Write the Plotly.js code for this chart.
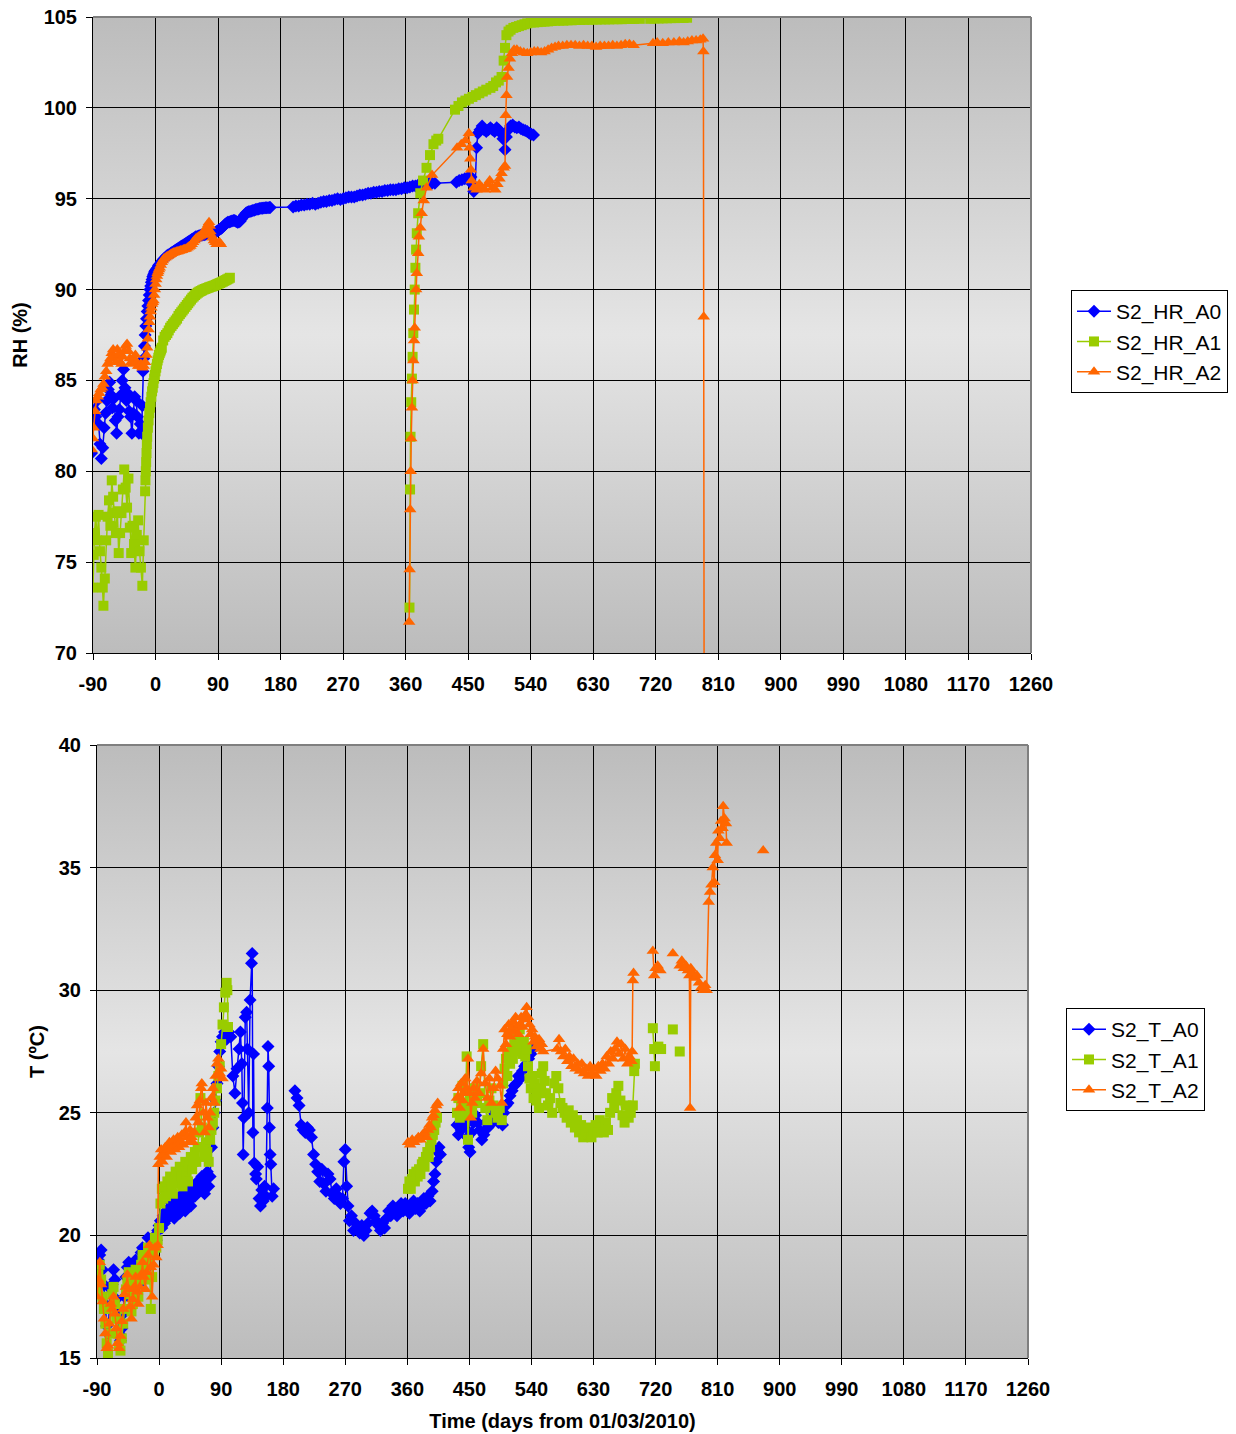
<!DOCTYPE html>
<html>
<head>
<meta charset="utf-8">
<script src="https://cdn.plot.ly/plotly-3.0.1.min.js"></script>
<style>html,body{margin:0;padding:0;background:#fff;}#chart{width:1236px;height:1434px;}</style>
</head>
<body>
<div id="chart"></div>
<script>
// ---------- tick labels ----------
const xTickVals = [-90,0,90,180,270,360,450,540,630,720,810,900,990,1080,1170,1260];
const xTickText = ['-90','0','90','180','270','360','450','540','630','720','810','900','990','1080','1170','1260'];
const rhTickVals = [70,75,80,85,90,95,100,105];
const tTickVals = [15,20,25,30,35,40];

// ---------- RH series ----------
const rhA0Days = [-92,-90,-88,-86,-84,-82,-80,-78,-76,-74,-72,-70,-68,-66,-64,-62,-60,-58,-56,-54,-52,-50,-48,-46,-44,-42,-40,-38,-36,-34,-32,-30,-28,-26,-24,-22,-20,-19,-18,-17,-16,-15,-14,-13,-12,-11,-10,-9,-8,-7,-6,-5,-4,-3,-2,-1,0,1,2,3,4,5,6,8,10,12,14,16,18,20,22,24,26,28,30,32,34,36,38,40,42,44,46,48,50,52,54,56,58,60,62,64,66,68,70,72,74,76,78,80,82,84,86,88,90,92,94,96,98,100,102,104,106,108,110,112,114,116,118,120,122,124,126,128,130,132,134,136,138,140,142,144,146,148,150,152,154,156,158,160,162,164,165,
198,202,206,210,214,218,222,226,230,234,238,242,246,250,254,258,262,266,270,274,278,282,286,290,294,298,302,306,310,314,318,322,326,330,334,338,342,346,350,354,358,362,366,370,374,378,382,386,390,394,398,402,
433,437,441,445,449,452,454,456,458,460,462,464,467,470,473,476,479,482,485,488,491,494,497,500,503,505,508,511,514,517,520,523,526,529,532,535,538,541,544];
const rhA0 = [81.0,82.6,83.4,83.0,83.9,82.6,81.5,80.7,81.3,82.4,83.2,83.9,84.5,84.9,84.2,83.5,84.0,82.8,82.1,83.0,83.4,84.2,85.0,85.6,84.6,83.9,84.3,83.3,83.0,82.1,83.2,84.1,83.9,83.0,82.1,82.6,82.1,83.6,85.5,86.2,86.9,87.5,88.0,88.4,88.8,89.1,89.4,89.7,90.0,90.2,90.4,90.55,90.7,90.8,90.9,91.0,91.05,91.1,91.15,91.2,91.3,91.35,91.4,91.5,91.6,91.7,91.75,91.85,91.9,91.95,92.0,92.05,92.1,92.15,92.2,92.25,92.3,92.35,92.4,92.45,92.5,92.55,92.6,92.65,92.7,92.75,92.8,92.85,92.9,92.92,92.95,92.98,93.0,93.0,93.02,93.05,93.08,93.1,93.05,93.0,93.05,93.1,93.15,93.2,93.25,93.3,93.35,93.42,93.5,93.58,93.65,93.7,93.72,93.75,93.78,93.8,93.8,93.75,93.7,93.72,93.78,93.9,94.0,94.1,94.2,94.25,94.28,94.3,94.32,94.35,94.37,94.4,94.42,94.44,94.46,94.47,94.48,94.49,94.5,94.5,94.5,94.52,94.52,
94.55,94.6,94.6,94.65,94.65,94.7,94.7,94.75,94.7,94.75,94.8,94.85,94.85,94.9,94.9,94.95,95.0,94.95,95.0,95.05,95.1,95.1,95.1,95.15,95.2,95.2,95.25,95.3,95.3,95.35,95.35,95.4,95.4,95.45,95.45,95.5,95.5,95.5,95.55,95.55,95.6,95.6,95.65,95.7,95.7,95.75,95.75,95.8,95.8,95.85,95.85,95.85,
95.9,96.0,96.05,96.1,96.15,96.2,96.2,95.8,95.4,95.6,97.8,98.6,98.8,99.0,98.8,98.7,98.8,98.9,98.8,98.7,98.9,98.8,98.6,98.3,97.7,98.4,98.8,99.0,99.05,98.95,98.9,98.95,98.85,98.8,98.75,98.7,98.6,98.55,98.5];

const rhA1Days = [-90,-89,-88,-86,-84,-82,-80,-78,-76,-75,-73,-71,-69,-67,-65,-63,-61,-59,-57,-55,-53,-51,-49,-47,-45,-43,-41,-39,-37,-35,-33,-31,-29,-27,-25,-23,-21,-19,-17,-15,-14.5,-14,-13.5,-13,-12.5,-12,-11,-10,-9,-8,-7,-6,-5,-4,-3,-2,-1,0,1,2,3,4,5,6,7,8,9,11,13,15,17,19,21,23,25,27,29,31,33,35,37,39,41,43,45,47,49,51,53,55,57,59,61,63,65,67,69,71,73,75,77,79,81,83,85,87,89,91,93,95,97,99,101,103,105,107,
null,
365.5,366.3,367,368,369,370,371,372,373,374,375,376,378,381,385,390,395,400,404,407,
431,436,441,446,451,456,461,466,471,476,482,486,490,494,498,501,503,505,508,511,515,519,523,527,531,535,540,545,550,555,560,565,570,575,581,587,593,599,605,611,617,623,629,635,641,647,653,659,665,671,677,683,689,697,712,718,724,730,736,742,748,754,760,765];
const rhA1 = [73.6,75.4,76.6,77.5,76.2,77.6,75.6,74.7,73.6,72.6,74.1,76.2,77.5,78.4,77.0,79.5,78.6,77.7,76.6,77.8,75.5,76.6,77.7,79.0,80.1,79.1,78.0,79.6,76.9,75.5,77.0,76.0,74.7,76.5,77.3,75.6,74.7,73.7,76.2,78.9,79.5,80.0,80.5,81.0,81.5,81.9,82.4,82.8,83.2,83.5,83.8,84.1,84.4,84.6,84.85,85.1,85.3,85.5,85.7,85.9,86.1,86.25,86.4,86.5,86.6,86.7,86.8,87.2,87.4,87.5,87.6,87.75,87.9,88.0,88.1,88.2,88.3,88.4,88.55,88.65,88.75,88.85,88.95,89.05,89.15,89.25,89.35,89.45,89.55,89.62,89.7,89.77,89.83,89.88,89.92,89.96,90.0,90.03,90.06,90.09,90.12,90.15,90.17,90.2,90.23,90.26,90.3,90.33,90.36,90.4,90.44,90.48,90.52,90.56,90.6,90.65,
null,
72.5,79.0,81.9,83.8,85.1,86.3,87.6,88.9,90.0,91.2,92.2,93.1,94.2,95.3,96.0,96.7,97.4,98.0,98.2,98.3,
99.9,100.1,100.3,100.4,100.5,100.6,100.7,100.8,100.9,101.0,101.1,101.2,101.4,101.5,101.7,102.6,103.3,104.0,104.2,104.3,104.4,104.45,104.5,104.55,104.6,104.65,104.7,104.7,104.72,104.74,104.75,104.76,104.78,104.8,104.8,104.8,104.82,104.82,104.84,104.84,104.85,104.85,104.86,104.86,104.87,104.87,104.87,104.88,104.88,104.88,104.89,104.89,104.9,104.9,104.9,104.92,104.92,104.93,104.93,104.94,104.94,104.95,104.95,104.96];

const rhA2Days = [-92,-90,-89,-87,-85,-83,-81,-79,-77,-75,-73,-71,-69,-67,-65,-63,-61,-59,-57,-55,-53,-51,-49,-47,-45,-43,-41,-39,-37,-35,-33,-31,-29,-27,-25,-23,-21,-19,-17,-15,-13,-12,-11,-10,-9,-8,-7,-6,-5,-4,-3,-2,-1,0,1,2,3,4,5,6,7.5,9,10.5,12,14,16,18,20,22,24,26,28,30,32,34,36,38,40,42,44,46,48,50,52,54,56,58,60,62,64,66,68,70,72,74,76,77,78,79,80,82,84,86,88,90,92,94,
null,
365,365.7,366.5,367.2,368,369,370,371,372,373,375,376,378,379,381,383,386,390,398,434,440,446,451,452,453,454,455,458,462,466,470,474,478,481,485,489,492,495,498,501,503,504,505,506,508,510,513,516,520,525,530,535,540,545,550,555,560,565,570,575,580,586,592,598,604,610,616,622,628,634,640,646,652,658,664,670,676,682,688,716,722,730,738,746,754,760,766,772,778,784,788,788.5,789,789.5];
const rhA2 = [81.2,81.8,82.4,83.3,83.9,84.1,84.3,84.5,84.6,84.8,85.2,85.5,85.9,86.0,86.2,86.5,86.7,86.3,86.0,86.7,86.4,86.0,85.9,86.3,86.6,86.9,87.0,86.6,86.2,86.0,85.9,86.1,86.4,86.0,85.8,85.8,85.9,85.7,85.8,86.0,86.4,86.8,87.3,87.8,88.2,88.5,88.8,89.0,89.2,89.3,89.4,89.7,90.0,90.3,90.55,90.75,90.9,91.0,91.1,91.2,91.35,91.5,91.6,91.7,91.75,91.8,91.85,91.9,91.95,92.0,92.02,92.05,92.08,92.1,92.12,92.15,92.17,92.2,92.22,92.25,92.3,92.35,92.4,92.5,92.6,92.7,92.8,92.85,92.9,92.95,93.0,93.1,93.2,93.3,93.45,93.6,93.7,93.5,93.2,93.0,92.85,92.7,92.6,92.5,92.55,92.6,92.5,
null,
71.7,74.6,77.9,80.0,81.8,83.5,85.0,86.1,87.2,87.9,90.0,90.9,92.0,92.9,93.4,94.2,94.9,95.6,96.3,97.8,98.0,98.2,98.6,97.8,97.2,96.6,96.0,95.6,95.5,95.8,95.6,95.5,95.8,96.0,95.6,95.5,95.8,96.1,96.4,96.7,96.8,99.6,100.7,101.7,102.2,102.7,103.0,103.2,103.2,103.1,103.05,103.0,103.05,103.1,103.1,103.05,103.1,103.2,103.3,103.35,103.4,103.4,103.45,103.45,103.45,103.4,103.45,103.4,103.4,103.35,103.4,103.4,103.4,103.45,103.4,103.45,103.5,103.5,103.45,103.55,103.6,103.55,103.6,103.6,103.65,103.6,103.65,103.7,103.7,103.75,103.8,103.1,88.5,69.5];

// ---------- T series ----------
const tA0Days = [-90,-88,-86,-84,-82,-80,-78,-76,-74,-72,-70,-68,-66,-64,-62,-60,-58,-56,-54,-52,-50,-48,-46,-44,-42,-40,-38,-36,-34,-32,-30,-28,-26,-24,-22,-20,-18,-16,-14,-12,-10,-8,-6,-4,-2,0,
2,4,6,8,10,12,14,16,18,20,22,24,26,28,30,32,34,36,38,40,42,44,46,48,50,52,54,56,58,60,62,64,66,68,70,72,74,76,78,80,82,84,86,88,90,92,95,98,101,104,107,110,113,116,118,120,121,122,123,125,127,128,130,132,134,135,136,137,138,140,141,143,145,147,149,151,153,155,157,158,159,160,161,162,164,166,
null,
197,200,203,206,209,212,215,218,221,224,227,230,233,236,239,242,245,248,251,254,257,260,263,266,268,270,272,274,276,279,282,285,288,291,294,297,300,303,306,309,312,315,318,321,324,327,330,333,336,339,342,345,348,351,354,357,360,363,366,369,372,375,378,381,384,387,390,393,396,398,400,402,404,406,408,
null,
432,434,436,438,441,444,447,449,451,453,456,459,462,465,468,471,474,477,480,483,486,489,492,495,498,500,503,506,509,512,515,518,521,524,527,530,533,536,539,542];
const tA0 = [18.3,19.0,19.2,19.4,18.6,18.0,17.2,16.3,16.0,17.1,17.8,18.0,18.6,18.2,17.4,16.8,16.0,15.7,16.2,16.8,17.5,18.3,18.7,18.9,18.2,17.4,17.8,18.6,19.0,18.5,18.0,18.8,19.3,19.5,19.0,18.6,19.3,19.9,19.6,19.2,19.5,19.9,20.0,19.8,20.2,20.4,
20.6,20.3,20.8,20.5,21.0,20.7,21.1,20.8,21.3,21.0,20.7,21.2,21.5,21.1,20.9,21.4,21.7,21.3,21.0,21.5,21.8,21.4,21.2,21.7,22.0,21.6,21.9,22.2,21.8,22.1,22.4,22.0,21.7,22.3,22.6,22.0,22.4,23.6,24.4,25.0,25.5,26.2,26.9,27.5,27.9,28.1,28.3,28.0,28.3,28.1,26.5,25.8,26.8,27.6,28.3,27.0,25.4,23.3,24.8,28.9,29.1,27.6,25.0,29.6,31.1,31.5,24.2,27.4,22.95,22.5,22.3,22.8,21.5,21.2,21.85,21.4,22.0,21.6,25.2,27.7,26.9,24.4,23.3,22.9,21.6,21.9,
null,
25.9,25.6,25.3,24.5,24.3,24.2,24.4,24.3,24.0,23.3,22.9,22.6,22.2,22.7,22.1,21.8,22.5,22.3,21.7,21.5,21.9,21.6,21.3,21.5,23.0,23.5,22.0,21.2,20.6,20.8,20.2,20.5,20.3,20.1,20.4,20.0,20.2,20.5,20.9,21.0,20.8,20.6,20.4,20.2,20.5,20.3,20.7,21.0,20.8,21.2,21.0,20.8,21.1,21.3,21.0,21.3,21.1,20.9,21.2,21.4,21.1,21.3,21.0,21.2,21.5,21.3,21.6,21.4,21.8,22.2,22.5,23.0,23.4,23.6,23.3,
null,
24.5,24.1,24.6,24.3,24.8,24.5,24.0,23.6,23.4,24.2,24.6,24.9,24.6,24.3,23.9,24.1,24.6,24.4,24.5,24.8,25.0,24.9,24.6,24.9,24.5,25.0,25.3,25.4,25.7,25.9,26.1,26.2,26.5,26.4,26.7,26.9,27.0,27.2,27.4,27.6];

const tA1Days = [-90,-88,-86,-84,-82,-80,-78,-76,-74,-72,-70,-68,-66,-64,-62,-60,-58,-56,-54,-52,-50,-48,-46,-44,-42,-40,-38,-36,-34,-32,-30,-28,-26,-24,-22,-20,-18,-16,-14,-12,-10,-8,-6,-4,-2,0,
2,4,6,8,10,12,14,16,18,20,22,24,26,28,30,32,34,36,38,40,42,44,46,48,50,52,54,56,58,60,62,64,66,68,70,72,74,76,78,80,82,84,86,88,90,92,94,96,98,99,100,
null,
361,363,365,367,369,371,373,375,377,379,381,383,385,387,389,391,393,395,397,399,401,403,
null,
432,434,436,438,440,442,444,446,448,450,452,454,456,458,461,464,467,470,473,476,479,482,485,488,491,494,497,499,501,503,505,507,509,511,513,515,517,519,521,523,525,527,529,531,533,535,537,539,541,543,545,547,549,551,553,555,557,559,561,564,567,570,573,576,579,582,585,588,591,594,597,600,603,606,609,612,615,618,621,624,627,630,633,636,639,642,645,648,651,654,657,660,663,666,669,672,675,678,681,684,687,689,690,
null,
716,718,719,null,724,728,null,745,null,755];
const tA1 = [17.8,18.4,18.8,18.2,17.5,17.0,16.4,15.6,15.2,16.0,17.0,17.6,17.9,17.2,16.6,16.0,15.5,15.3,15.8,16.4,17.0,17.8,18.2,18.5,17.6,16.9,17.2,18.0,18.6,18.1,17.5,18.2,18.8,19.2,18.7,18.2,18.9,19.5,19.0,17.0,18.3,19.4,19.9,19.5,19.8,20.3,
21.3,21.9,21.5,22.0,21.6,22.2,21.8,22.4,22.0,21.7,22.3,22.6,22.1,22.5,22.8,22.4,22.0,22.6,23.0,22.5,22.2,22.8,23.2,22.7,23.0,23.4,23.0,23.6,24.2,25.6,24.4,23.6,23.2,23.8,23.4,23.0,23.9,24.3,24.6,25.0,25.5,26.0,26.5,26.9,27.8,28.6,29.3,29.9,30.3,30.0,28.5,
null,
21.9,22.2,21.9,22.3,22.5,22.2,22.6,22.4,22.7,22.5,22.9,23.0,22.8,23.2,23.4,23.2,23.6,23.9,24.1,24.3,24.6,24.8,
null,
25.0,25.6,24.8,25.3,26.1,25.4,24.9,27.3,23.9,25.2,25.8,25.0,25.5,26.0,25.4,25.8,26.9,27.8,25.2,24.7,25.5,26.0,25.3,25.0,24.8,25.2,24.7,26.2,26.8,27.2,26.5,27.4,27.0,27.6,27.2,27.8,27.5,28.1,27.7,28.4,27.8,27.4,27.9,27.3,27.6,26.9,26.4,26.0,26.5,25.6,26.2,25.5,25.8,25.2,26.0,26.6,26.9,26.3,25.8,25.3,25.6,25.0,26.2,26.5,26.0,25.4,25.2,25.0,24.8,25.1,24.6,24.9,24.4,24.7,24.2,24.5,24.0,24.3,24.1,24.4,24.0,24.2,24.5,24.2,24.7,24.4,24.2,24.6,24.3,25.0,25.6,25.2,25.8,26.1,25.5,24.9,24.6,25.3,24.8,25.0,25.3,26.7,27.0,
null,
28.45,27.6,26.9,null,27.7,27.6,null,28.4,null,27.5];

const tA2Days = [-90,-88,-86,-84,-82,-80,-78,-76,-74,-72,-70,-68,-66,-64,-62,-60,-58,-56,-54,-52,-50,-48,-46,-44,-42,-40,-38,-36,-34,-32,-30,-28,-26,-24,-22,-20,-18,-16,-14,-12,-10,-8,-6,-4,-2,
-1,1,3,5,7,9,11,13,15,17,19,21,23,25,27,29,31,33,35,37,39,41,43,45,47,49,51,53,55,57,59,61,62,64,66,68,70,72,74,76,78,80,82,84,86,88,90,92,
null,
361,364,367,370,373,376,379,382,385,388,390,392,394,396,398,400,402,404,
null,
432,434,436,438,440,442,444,446,448,450,452,454,456,458,461,464,467,470,473,476,479,482,485,488,491,494,497,499,501,503,505,507,509,511,513,515,517,519,521,523,525,527,529,531,533,535,537,539,541,543,545,547,549,551,553,555,557,577,580,583,586,589,592,595,598,601,604,607,610,613,616,619,622,625,628,631,634,637,640,643,646,649,652,655,658,661,664,667,670,673,676,679,682,685,686,687,688,
null,
716,718,720,723,727,null,745,null,755,758,761,764,767,769,770,771,774,777,780,783,786,789,792,794,797,799,801,803,805,806,808,810,811,813,815,817,818,820,822,823,null,876];
const tA2 = [17.5,18.2,18.9,18.0,17.3,16.6,16.0,15.4,15.5,16.4,17.2,17.0,17.5,16.8,16.2,15.6,15.4,15.9,16.5,17.0,17.6,17.9,18.4,17.8,17.1,16.6,17.4,17.9,18.3,17.7,17.2,17.9,18.4,18.9,18.3,17.8,18.5,19.2,19.6,18.7,17.5,18.8,19.5,19.1,19.6,
22.9,23.2,23.5,23.0,23.3,23.6,23.2,23.5,23.8,23.4,23.6,23.9,23.5,23.7,24.0,23.6,23.8,24.1,23.7,24.2,24.6,24.0,23.8,24.3,24.0,23.8,24.2,24.8,25.3,24.6,25.5,26.0,26.2,25.0,24.2,25.4,24.8,24.4,25.0,25.6,26.0,25.4,26.5,27.0,27.2,26.6,26.8,26.4,
null,
23.8,23.7,23.9,23.8,23.9,24.0,23.9,24.1,24.2,24.0,24.3,24.5,24.4,24.8,24.9,25.1,25.3,25.4,
null,
25.6,26.0,25.2,26.2,25.5,25.8,26.4,26.0,27.2,25.8,24.8,25.4,26.0,25.6,26.3,25.8,26.6,27.6,26.2,25.6,26.4,25.4,26.0,26.7,26.4,26.1,25.4,27.6,28.4,27.8,28.2,28.6,28.1,28.4,28.7,28.3,28.9,28.5,28.2,28.6,28.9,28.5,28.8,29.0,29.3,28.9,28.6,28.2,28.4,27.9,28.1,27.7,27.9,28.0,27.6,27.8,27.5,27.6,28.0,27.5,27.3,27.6,27.1,27.3,26.9,27.2,26.8,27.0,26.7,27.0,26.6,26.8,26.5,26.9,26.6,26.8,26.5,26.9,26.7,27.0,26.8,27.3,27.0,27.5,27.2,27.6,27.9,27.4,27.8,27.2,27.6,27.0,27.3,27.1,27.5,30.4,30.7,
null,
31.6,30.6,30.9,31.0,30.8,null,31.5,null,31.0,31.2,30.9,31.0,30.8,30.6,25.2,30.9,30.7,30.5,30.6,30.3,30.1,30.0,30.2,30.0,33.6,34.0,34.3,35.0,34.4,35.5,36.0,35.3,36.5,36.2,36.9,36.6,37.5,37.0,36.8,36.0,null,35.7];

// ---------- styling ----------
const BLUE = '#0000FF', GREEN = '#99CC00', ORANGE = '#FF6600';
const FONT = 'Liberation Sans, Arial, sans-serif';

function series(x, y, name, color, symbol, size, xa, ya, legend) {
  return {
    type: 'scatter', mode: 'lines+markers', x: x, y: y, name: name,
    xaxis: xa, yaxis: ya, legend: legend, connectgaps: false,
    line: {color: color, width: 1.5},
    marker: {color: color, symbol: symbol, size: size, line: {width: 0}}
  };
}

const data = [
  series(rhA0Days, rhA0, 'S2_HR_A0', BLUE, 'diamond', 10, 'x', 'y', 'legend'),
  series(rhA1Days, rhA1, 'S2_HR_A1', GREEN, 'square', 10, 'x', 'y', 'legend'),
  series(rhA2Days, rhA2, 'S2_HR_A2', ORANGE, 'triangle-up', 11, 'x', 'y', 'legend'),
  series(tA0Days, tA0, 'S2_T_A0', BLUE, 'diamond', 10, 'x2', 'y2', 'legend2'),
  series(tA1Days, tA1, 'S2_T_A1', GREEN, 'square', 10, 'x2', 'y2', 'legend2'),
  series(tA2Days, tA2, 'S2_T_A2', ORANGE, 'triangle-up', 11, 'x2', 'y2', 'legend2')
];

const W = 1236, H = 1434;
const topDom = {x: [93/W, 1031/W], y: [(H-653)/H, (H-17)/H]};
const botDom = {x: [97/W, 1028/W], y: [(H-1358)/H, (H-745)/H]};

const tickFont = {family: FONT, size: 20, color: '#000', weight: 'bold'};
const titleFont = {family: FONT, size: 20, color: '#000', weight: 'bold'};
const legendFont = {family: FONT, size: 21, color: '#000'};

function xAxis(dom, anchor, title) {
  const a = {
    domain: dom, anchor: anchor, range: [-90, 1260],
    tickmode: 'array', tickvals: xTickVals, ticktext: xTickText,
    ticks: 'outside', ticklen: 6, tickwidth: 1, tickcolor: '#000',
    ticklabelstandoff: 7,
    showgrid: true, gridcolor: '#000', gridwidth: 1,
    showline: true, linecolor: '#000', linewidth: 1,
    zeroline: false, tickfont: tickFont, fixedrange: true
  };
  if (title) a.title = {text: title, font: titleFont, standoff: 14};
  return a;
}
function yAxis(dom, anchor, range, vals, title, standoff) {
  return {
    domain: dom, anchor: anchor, range: range,
    tickmode: 'array', tickvals: vals, ticktext: vals.map(String),
    ticks: 'outside', ticklen: 6, tickwidth: 1, tickcolor: '#000',
    ticklabelstandoff: 5,
    showgrid: true, gridcolor: '#000', gridwidth: 1,
    showline: true, linecolor: '#000', linewidth: 1,
    zeroline: false, tickfont: tickFont, fixedrange: true,
    title: {text: title, font: titleFont, standoff: standoff}
  };
}

const gradSvg = "<svg xmlns='http://www.w3.org/2000/svg' width='10' height='100' viewBox='0 0 10 100' preserveAspectRatio='none'>" +
  "<defs><linearGradient id='g' x1='0' y1='0' x2='0' y2='1'>" +
  "<stop offset='0' stop-color='#bcbcbc'/><stop offset='0.5' stop-color='#e5e5e5'/><stop offset='1' stop-color='#bcbcbc'/>" +
  "</linearGradient></defs><rect x='0' y='0' width='10' height='100' fill='url(#g)'/></svg>";
const gradSrc = 'data:image/svg+xml;base64,' + btoa(gradSvg);

function bg(dom) {
  return {source: gradSrc, xref: 'paper', yref: 'paper', x: dom.x[0], y: dom.y[1],
    sizex: dom.x[1]-dom.x[0], sizey: dom.y[1]-dom.y[0], xanchor: 'left', yanchor: 'top',
    sizing: 'stretch', layer: 'below'};
}
function border(xr, yr) {
  return [
    {type: 'line', xref: xr, yref: yr, x0: 0, x1: 1, y0: 1, y1: 1, line: {color: '#7f7f7f', width: 2}, layer: 'above'},
    {type: 'line', xref: xr, yref: yr, x0: 1, x1: 1, y0: 0, y1: 1, line: {color: '#7f7f7f', width: 2}, layer: 'above'}
  ];
}

const layout = {
  width: W, height: H,
  margin: {l: 0, r: 0, t: 0, b: 0, pad: 0},
  paper_bgcolor: '#ffffff', plot_bgcolor: 'rgba(0,0,0,0)',
  font: {family: FONT, color: '#000'},
  xaxis: xAxis(topDom.x, 'y', null),
  yaxis: yAxis(topDom.y, 'x', [70, 105], rhTickVals, 'RH (%)', 10),
  xaxis2: xAxis(botDom.x, 'y2', 'Time (days from 01/03/2010)'),
  yaxis2: yAxis(botDom.y, 'x2', [15, 40], tTickVals, 'T (ºC)', 8),
  images: [bg(topDom), bg(botDom)],
  shapes: border('x domain', 'y domain').concat(border('x2 domain', 'y2 domain')),
  legend: {x: 1071/W, y: (H-290)/H, xanchor: 'left', yanchor: 'top', bgcolor: '#fff',
    bordercolor: '#000', borderwidth: 1, font: legendFont, itemwidth: 34},
  legend2: {x: 1066/W, y: (H-1008)/H, xanchor: 'left', yanchor: 'top', bgcolor: '#fff',
    bordercolor: '#000', borderwidth: 1, font: legendFont, itemwidth: 34},
  showlegend: true
};

Plotly.newPlot('chart', data, layout, {displayModeBar: false, staticPlot: true});
</script>
</body>
</html>
